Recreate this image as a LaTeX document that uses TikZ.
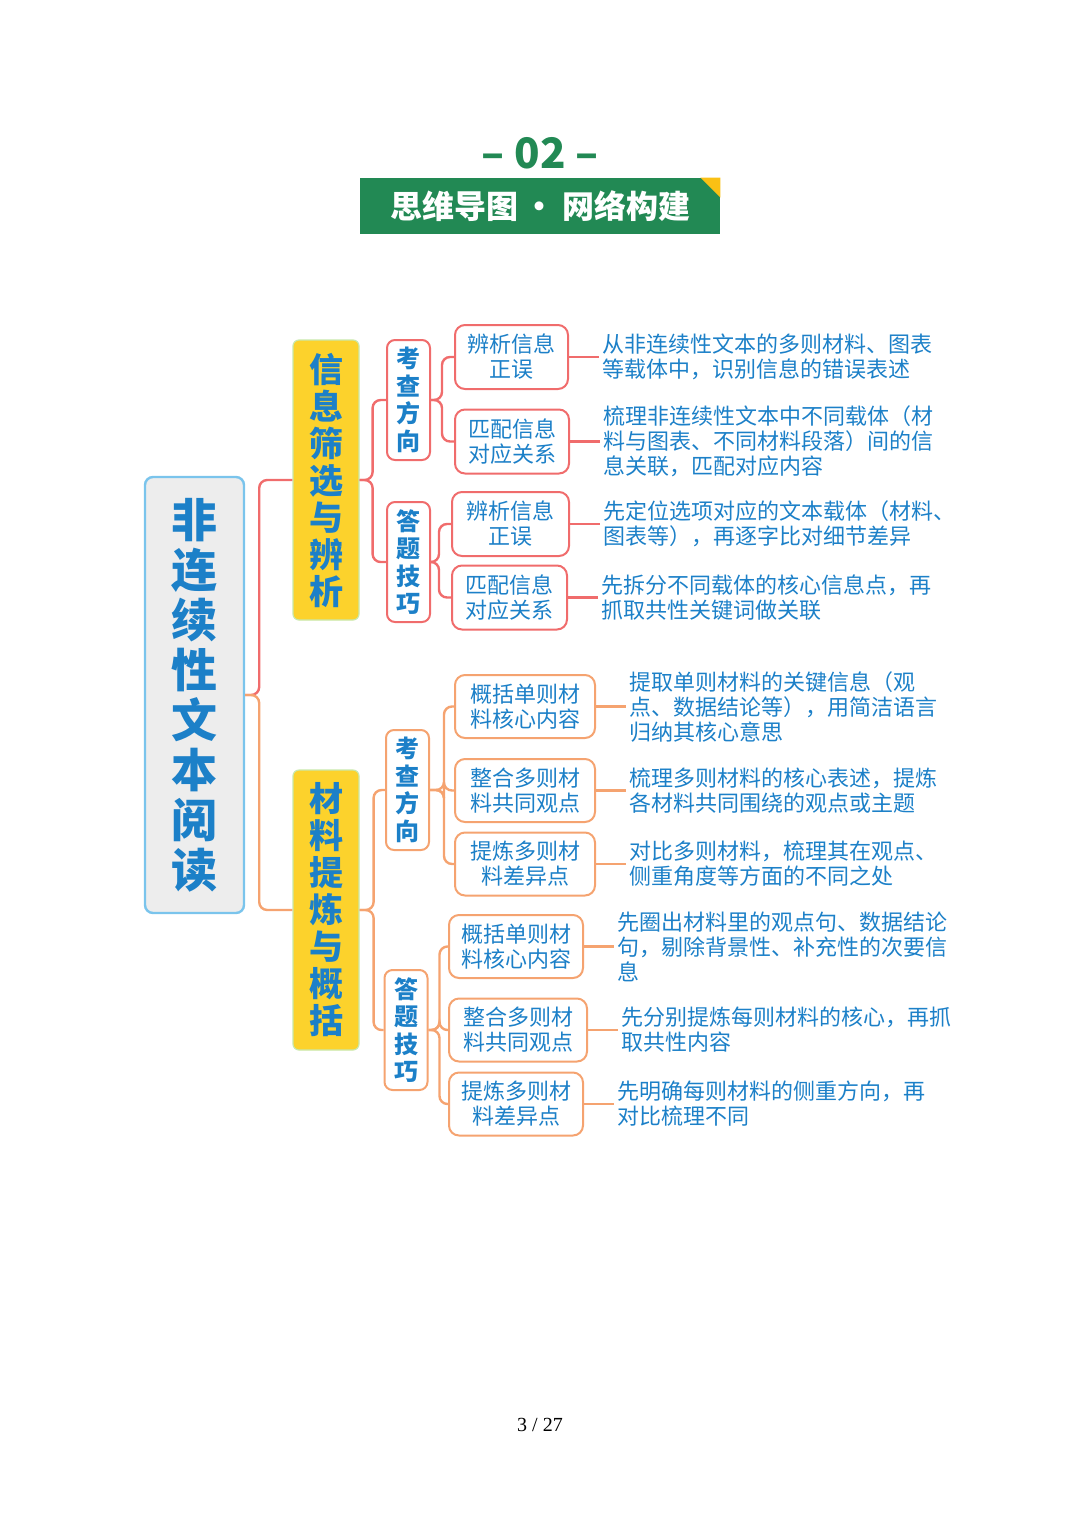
\documentclass[tikz,border=0pt]{standalone}
\usepackage{fontspec}
\setmainfont{Noto Sans CJK SC}
\newfontfamily\pagefont{Liberation Serif}
\usepackage{xcolor}
\usetikzlibrary{positioning}

\definecolor{mapred}{RGB}{240,108,108}
\definecolor{maporange}{RGB}{245,163,112}
\definecolor{mapblue}{RGB}{28,128,200}
\definecolor{mapyellow}{RGB}{252,210,44}
\definecolor{yellowedge}{RGB}{200,232,170}
\definecolor{rootgray}{RGB}{237,237,237}
\definecolor{rootedge}{RGB}{122,196,236}
\definecolor{titlegreen}{RGB}{34,137,84}
\definecolor{titleyellow}{RGB}{250,192,20}

\begin{document}
\begin{tikzpicture}[x=0.5pt, y=-0.5pt,
    rootbox/.style={rectangle, rounded corners=4pt, draw=rootedge, line width=1.2pt, fill=rootgray, minimum width=49.5pt, minimum height=218pt, align=center, inner sep=0pt, text=mapblue, font=\fontsize{23pt}{25pt}\selectfont\bfseries},
    topicbox/.style={rectangle, rounded corners=3pt, draw=yellowedge, line width=0.6pt, fill=mapyellow, minimum width=33pt, minimum height=140pt, align=center, inner sep=0pt, text=mapblue, font=\fontsize{17pt}{18.5pt}\selectfont\bfseries},
    sidebox/.style={rectangle, rounded corners=4pt, line width=1pt, fill=white, minimum width=21.5pt, minimum height=60pt, align=center, inner sep=0pt, text=mapblue, font=\fontsize{12pt}{13.75pt}\selectfont\bfseries},
    itembox/.style={rectangle, rounded corners=5pt, line width=1pt, fill=white, minimum height=32pt, align=center, inner sep=0pt, text=mapblue, font=\fontsize{11pt}{12.5pt}\selectfont},
    desc/.style={align=left, inner xsep=1.5pt, inner ysep=0pt, text=mapblue, font=\fontsize{11pt}{12.5pt}\selectfont},
    redline/.style={draw=mapred, line width=1.2pt, rounded corners=4pt},
    orangeline/.style={draw=maporange, line width=1.2pt, rounded corners=4pt}
]
\useasboundingbox (0,0) rectangle (1080,1528);

% heading
\node[text=titlegreen, font=\fontsize{21pt}{21pt}\selectfont\bfseries] (num) at (540,153) {– 02 –};
\node[rectangle, fill=titlegreen, minimum width=180pt, minimum height=28pt, text=white, font=\fontsize{16pt}{16pt}\selectfont\bfseries] (title) at (540,206) {思维导图\hspace{3pt}·\hspace{3pt}网络构建};
\fill[titleyellow] (title.north east) -- ++(-10pt,0) -- ++(10pt,-10pt) -- cycle;

% root and main branches
\node[rootbox] (root) at (194.5,695) {非\\连\\续\\性\\文\\本\\阅\\读};
\node[topicbox] (l1a) at (326,480) {信\\息\\筛\\选\\与\\辨\\析};
\node[topicbox] (l1b) at (326,910) {材\\料\\提\\炼\\与\\概\\括};

\node[sidebox, draw=mapred] (l2a) at (408.5,400) {考\\查\\方\\向};
\node[sidebox, draw=mapred] (l2b) at (408.5,562) {答\\题\\技\\巧};
\node[sidebox, draw=maporange] (l2c) at (407.5,790) {考\\查\\方\\向};
\node[sidebox, draw=maporange] (l2d) at (406,1030) {答\\题\\技\\巧};

% upper items
\node[itembox, draw=mapred, minimum width=56.5pt] (a1) at (511.5,357) {辨析信息\\正误};
\node[itembox, draw=mapred, minimum width=57pt] (a2) at (512,441.5) {匹配信息\\对应关系};
\node[itembox, draw=mapred, minimum width=58.5pt] (b1) at (510.5,524) {辨析信息\\正误};
\node[itembox, draw=mapred, minimum width=57.5pt] (b2) at (509.5,597.5) {匹配信息\\对应关系};

% lower items
\node[itembox, draw=maporange, minimum width=70pt, minimum height=31.5pt] (c1) at (525,706.5) {概括单则材\\料核心内容};
\node[itembox, draw=maporange, minimum width=70pt, minimum height=31.5pt] (c2) at (525,790.5) {整合多则材\\料共同观点};
\node[itembox, draw=maporange, minimum width=70pt, minimum height=31.5pt] (c3) at (525,864) {提炼多则材\\料差异点};
\node[itembox, draw=maporange, minimum width=67pt, minimum height=31.5pt] (d1) at (516,946.5) {概括单则材\\料核心内容};
\node[itembox, draw=maporange, minimum width=69pt, minimum height=31.5pt] (d2) at (518,1030) {整合多则材\\料共同观点};
\node[itembox, draw=maporange, minimum width=67pt, minimum height=31.5pt] (d3) at (516,1104) {提炼多则材\\料差异点};

% descriptions
\node[desc, right=15pt of a1] (ta1) {从非连续性文本的多则材料、图表\\等载体中，识别信息的错误表述};
\node[desc, right=15pt of a2] (ta2) {梳理非连续性文本中不同载体（材\\料与图表、不同材料段落）间的信\\息关联，匹配对应内容};
\node[desc, right=15pt of b1] (tb1) {先定位选项对应的文本载体（材料、\\图表等），再逐字比对细节差异};
\node[desc, right=15pt of b2] (tb2) {先拆分不同载体的核心信息点，再\\抓取共性关键词做关联};
\node[desc, right=15pt of c1] (tc1) {提取单则材料的关键信息（观\\点、数据结论等），用简洁语言\\归纳其核心意思};
\node[desc, right=15pt of c2] (tc2) {梳理多则材料的核心表述，提炼\\各材料共同围绕的观点或主题};
\node[desc, right=15pt of c3] (tc3) {对比多则材料，梳理其在观点、\\侧重角度等方面的不同之处};
\node[desc, right=15pt of d1] (td1) {先圈出材料里的观点句、数据结论\\句，剔除背景性、补充性的次要信\\息};
\node[desc, right=15pt of d2] (td2) {先分别提炼每则材料的核心，再抓\\取共性内容};
\node[desc, right=15pt of d3] (td3) {先明确每则材料的侧重方向，再\\对比梳理不同};

% connectors
\draw[redline] (root.east) -- ++(7pt,0) |- (l1a.west);
\draw[orangeline] (root.east) -- ++(7pt,0) |- (l1b.west);
\draw[redline] (l1a.east) -- ++(6.5pt,0) |- (l2a.west);
\draw[redline] (l1a.east) -- ++(6.5pt,0) |- (l2b.west);
\draw[orangeline] (l1b.east) -- ++(7pt,0) |- (l2c.west);
\draw[orangeline] (l1b.east) -- ++(7pt,0) |- (l2d.west);

\draw[redline] (l2a.east) -- ++(5.5pt,0) |- (a1.west);
\draw[redline] (l2a.east) -- ++(5.5pt,0) |- (a2.west);
\draw[redline] (l2b.east) -- ++(4pt,0) |- (b1.west);
\draw[redline] (l2b.east) -- ++(4pt,0) |- (b2.west);
\draw[orangeline] (l2c.east) -- ++(7pt,0) |- (c1.west);
\draw[orangeline] (l2c.east) -- ++(7pt,0) |- (c2.west);
\draw[orangeline] (l2c.east) -- ++(7pt,0) |- (c3.west);
\draw[orangeline] (l2d.east) -- ++(5.5pt,0) |- (d1.west);
\draw[orangeline] (l2d.east) -- ++(5.5pt,0) |- (d2.west);
\draw[orangeline] (l2d.east) -- ++(5.5pt,0) |- (d3.west);

\draw[redline] (a1.east) -- (ta1.west);
\draw[redline] (a2.east) -- (ta2.west);
\draw[redline] (b1.east) -- (tb1.west);
\draw[redline] (b2.east) -- (tb2.west);
\draw[orangeline] (c1.east) -- (tc1.west);
\draw[orangeline] (c2.east) -- (tc2.west);
\draw[orangeline] (c3.east) -- (tc3.west);
\draw[orangeline] (d1.east) -- (td1.west);
\draw[orangeline] (d2.east) -- (td2.west);
\draw[orangeline] (d3.east) -- (td3.west);

% page number
\node[font=\pagefont\fontsize{10pt}{12pt}\selectfont] (page) at (540,1425) {3 / 27};
\end{tikzpicture}
\end{document}
